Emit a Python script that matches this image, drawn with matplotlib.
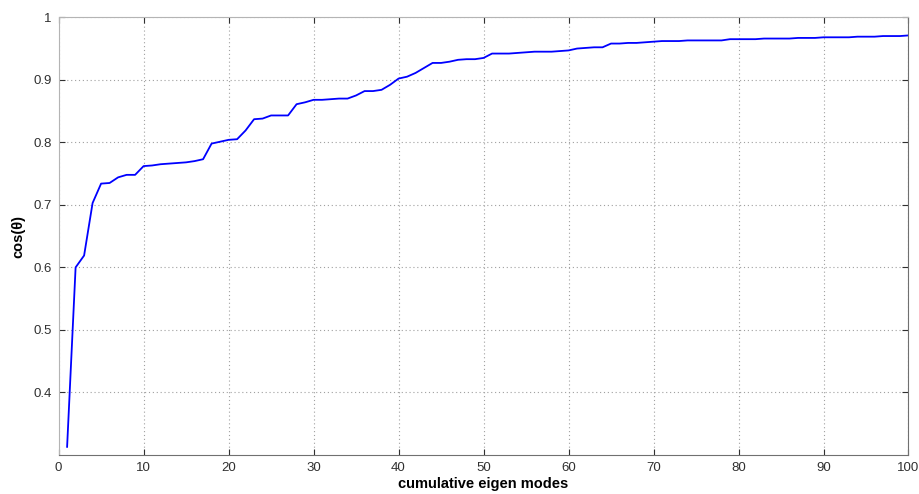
import numpy as np
import matplotlib
matplotlib.use("Agg")
import matplotlib.pyplot as plt
from matplotlib.ticker import FormatStrFormatter

plt.rcParams['font.family'] = ['Liberation Sans', 'DejaVu Sans']

# number of eigen modes kept
modes = np.arange(1, 101)
# cos(theta)
cos_theta = [
    0.313, 0.600, 0.619, 0.703, 0.734, 0.735, 0.744, 0.748, 0.748, 0.762,
    0.763, 0.765, 0.766, 0.767, 0.768, 0.770, 0.773, 0.798, 0.801, 0.804,
    0.805, 0.819, 0.837, 0.838, 0.843, 0.843, 0.843, 0.861, 0.864, 0.868,
    0.868, 0.869, 0.870, 0.870, 0.875, 0.882, 0.882, 0.884, 0.892, 0.902,
    0.905, 0.911, 0.919, 0.927, 0.927, 0.929, 0.932, 0.933, 0.933, 0.935,
    0.942, 0.942, 0.942, 0.943, 0.944, 0.945, 0.945, 0.945, 0.946, 0.947,
    0.950, 0.951, 0.952, 0.952, 0.958, 0.958, 0.959, 0.959, 0.960, 0.961,
    0.962, 0.962, 0.962, 0.963, 0.963, 0.963, 0.963, 0.963, 0.965, 0.965,
    0.965, 0.965, 0.966, 0.966, 0.966, 0.966, 0.967, 0.967, 0.967, 0.968,
    0.968, 0.968, 0.968, 0.969, 0.969, 0.969, 0.970, 0.970, 0.970, 0.971,
]
x_ticks = np.arange(0, 101, 10)
y_ticks = [0.4, 0.5, 0.6, 0.7, 0.8, 0.9, 1.0]

fig = plt.figure(figsize=(9.2, 4.94), dpi=100)
ax = fig.add_axes([0.0637, 0.079, 0.9238, 0.886])

ax.plot(modes, cos_theta, color='#0000ff', lw=1.3)

ax.set_xlim(0, 100)
ax.set_ylim(0.3, 1.0)
ax.set_xticks(x_ticks)
ax.set_yticks(y_ticks)
ax.yaxis.set_major_formatter(FormatStrFormatter('%g'))
ax.tick_params(direction='in', top=True, right=True, length=4,
               labelsize=9.5, colors='#303030', pad=5)
ax.grid(True, linestyle=(0, (1, 2.5)), color='#a0a0a0', lw=0.8)

for s in ['left', 'top']:
    ax.spines[s].set_color('#b4b4b4')
for s in ['bottom', 'right']:
    ax.spines[s].set_color('#707070')

ax.set_xlabel('cumulative eigen modes', fontsize=10.5, fontweight='bold', labelpad=2)
ax.set_ylabel('cos(θ)', fontsize=10.5, fontweight='bold', labelpad=6)

fig.savefig('out.png', dpi=100)
